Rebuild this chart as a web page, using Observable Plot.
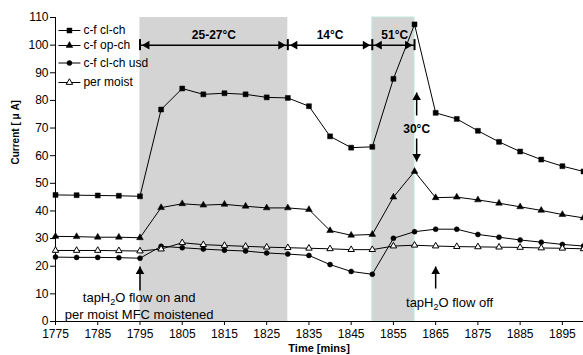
<!DOCTYPE html>
<html>
<head>
<meta charset="utf-8">
<script src="https://cdn.jsdelivr.net/npm/d3@7"></script>
<script src="https://cdn.jsdelivr.net/npm/@observablehq/plot@0.6"></script>
<style>
  html, body { margin: 0; padding: 0; background: white; }
  #chart svg { display: block; }
</style>
</head>
<body>
<div id="chart"></div>
<script>
// ---------- data ----------
const times = [1775, 1780, 1785, 1790, 1795, 1800, 1805, 1810, 1815, 1820, 1825, 1830, 1835,
               1840, 1845, 1850, 1855, 1860, 1865, 1870, 1875, 1880, 1885, 1890, 1895, 1900];
const cfClCh    = [45.8, 45.7, 45.6, 45.5, 45.3, 76.7, 84.3, 82.2, 82.6, 82.2, 81.1, 80.9, 77.9,
                   67.0, 62.9, 63.2, 87.8, 107.5, 75.5, 73.3, 69.0, 65.0, 61.5, 58.6, 56.2, 54.3];
const cfOpCh    = [30.8, 30.7, 30.5, 30.5, 30.3, 41.2, 42.6, 42.1, 42.4, 41.7, 41.1, 41.1, 40.5,
                   32.9, 31.2, 31.5, 45.0, 54.3, 44.8, 45.0, 44.0, 42.8, 41.5, 40.2, 38.7, 37.5];
const cfClChUsd = [23.3, 23.2, 23.2, 23.1, 22.9, 27.2, 26.7, 26.2, 25.8, 25.5, 24.8, 24.4, 23.9,
                   20.6, 18.1, 17.1, 30.1, 32.5, 33.4, 33.4, 31.5, 30.5, 29.5, 28.7, 27.9, 27.3];
const perMoist  = [25.7, 25.7, 25.7, 25.6, 25.5, 26.2, 28.5, 27.8, 27.5, 27.2, 26.9, 26.7, 26.5,
                   26.3, 26.0, 26.0, 27.3, 27.6, 27.3, 27.1, 27.0, 26.9, 26.8, 26.6, 26.5, 26.3];
const seriesNames = ["c-f cl-ch", "c-f op-ch", "c-f cl-ch usd", "per moist"];

const xTicks = [1775, 1785, 1795, 1805, 1815, 1825, 1835, 1845, 1855, 1865, 1875, 1885, 1895];
const yTicks = [0, 10, 20, 30, 40, 50, 60, 70, 80, 90, 100, 110];

const shadeStarts = [1795, 1850];
const shadeEnds   = [1830, 1860];
const periodStarts = [1795, 1830, 1850];
const periodEnds   = [1830, 1850, 1860];
const periodLabels = ["25-27°C", "14°C", "51°C"];
const midLabel = "30°C";
const flowOnLabels = ["tapH₂O flow on and", "per moist MFC moistened"];
const flowOffLabel = "tapH₂O flow off";
const xLabel = "Time [mins]";
const yLabel = "Current [ μ A]";

// ---------- styling (not data) ----------
const symbols = ["square", "triangle", "circle", "triangle"];
const fills   = ["black", "black", "black", "white"];
const radii   = [2.8, 2.5, 2.5, 2.4];
const allValues = [cfClCh, cfOpCh, cfClChUsd, perMoist];

const series = seriesNames.map((name, i) => ({
  name,
  rows: times.map((t, j) => ({t, v: allValues[i][j]})),
  symbol: symbols[i], fill: fills[i], r: radii[i]
}));

// layout helpers
const H = 355, mTop = 17, mBottom = 34;
const yPerPx = 110 / (H - mTop - mBottom);
const pxY = py => (H - mBottom - py) * yPerPx;  // pixel row -> data value
const legendRowsPx = [30, 45, 62.5, 82];
const arrowY = 100;
const headR = 3.2, headOff = 7;

function head(x, y, dir) {
  const rot = {up: 0, right: 90, down: 180, left: -90}[dir];
  const dx = dir === "left" ? headOff : dir === "right" ? -headOff : 0;
  const dy = dir === "up" ? 5 : dir === "down" ? -5 : 0;
  return Plot.dot([0], {x: () => x, y: () => y, symbol: "triangle", r: headR,
    fill: "black", stroke: "none", rotate: rot, dx, dy});
}

const marks = [
  Plot.rect([0], {x1: () => shadeStarts[0], x2: () => shadeEnds[0], y1: 0, y2: 110, fill: "#d4d4d4"}),
  Plot.rect([0], {x1: () => shadeStarts[1], x2: () => shadeEnds[1], y1: 0, y2: 110, fill: "#d4d4d4",
    stroke: "#bfeae0", strokeWidth: 1}),
  Plot.ruleX([1775], {stroke: "black", strokeWidth: 1}),
  Plot.ruleY([0], {stroke: "black", strokeWidth: 1}),
  Plot.axisX({ticks: xTicks, tickFormat: d => String(d), tickSize: 4, tickPadding: 4, label: null,
    fontSize: 12}),
  Plot.axisY({ticks: yTicks, tickSize: 5, tickPadding: 2, label: null, fontSize: 12}),
];

for (const s of series) {
  marks.push(Plot.line(s.rows, {x: "t", y: "v", stroke: "black", strokeWidth: 1}));
  marks.push(Plot.dot(s.rows, {x: "t", y: "v", symbol: s.symbol, r: s.r, fill: s.fill,
    stroke: "black", strokeWidth: s.fill === "white" ? 1 : 0.5}));
}

series.forEach((s, i) => {
  const ly = pxY(legendRowsPx[i]);
  marks.push(Plot.link([0], {x1: () => 1775.7, x2: () => 1780.9, y1: () => ly, y2: () => ly,
    stroke: "black", strokeWidth: 1}));
  marks.push(Plot.dot([0], {x: () => 1778.3, y: () => ly, symbol: s.symbol, r: s.r, fill: s.fill,
    stroke: "black", strokeWidth: s.fill === "white" ? 1 : 0.5}));
  marks.push(Plot.text([s.name], {x: () => 1781.6, y: () => ly, text: d => d, textAnchor: "start",
    fontSize: 12}));
});

periodLabels.forEach((lab, i) => {
  const a = periodStarts[i], b = periodEnds[i];
  marks.push(Plot.link([0], {x1: () => a, x2: () => b, y1: () => arrowY, y2: () => arrowY,
    stroke: "black", strokeWidth: 1.5}));
  marks.push(head(a, arrowY, "left"));
  marks.push(head(b, arrowY, "right"));
  marks.push(Plot.text([lab], {x: () => (a + b) / 2 + (i === 2 ? 0.3 : 0), y: () => pxY(35),
    text: d => d, fontWeight: "bold", fontSize: 12}));
});
marks.push(Plot.ruleX([...new Set([...periodStarts, ...periodEnds])], {y1: arrowY - 2, y2: arrowY + 2,
  stroke: "black", strokeWidth: 2}));

const x30 = 1860.5;
marks.push(Plot.link([0], {x1: () => x30, x2: () => x30, y1: () => pxY(115), y2: () => pxY(92),
  stroke: "black", strokeWidth: 1.5}));
marks.push(head(x30, pxY(92), "up"));
marks.push(Plot.link([0], {x1: () => x30, x2: () => x30, y1: () => pxY(138), y2: () => pxY(161),
  stroke: "black", strokeWidth: 1.5}));
marks.push(head(x30, pxY(161), "down"));
marks.push(Plot.text([midLabel], {x: () => x30, y: () => pxY(129), text: d => d,
  fontWeight: "bold", fontSize: 12}));

for (const [xx, y0] of [[1795, 290], [1865, 288]]) {
  marks.push(Plot.link([0], {x1: () => xx, x2: () => xx, y1: () => pxY(y0), y2: () => pxY(266),
    stroke: "black", strokeWidth: 1.5}));
  marks.push(head(xx, pxY(266), "up"));
}
marks.push(Plot.text([flowOnLabels[0]], {x: () => 1794.8, y: () => pxY(297), text: d => d, fontSize: 13}));
marks.push(Plot.text([flowOnLabels[1]], {x: () => 1794.8, y: () => pxY(314), text: d => d, fontSize: 13}));
marks.push(Plot.text([flowOffLabel], {x: () => 1868.3, y: () => pxY(302), text: d => d, fontSize: 13}));

marks.push(Plot.text([yLabel], {frameAnchor: "left", rotate: -90, dx: -40, dy: -5, text: d => d,
  fontWeight: "bold", fontSize: 10}));
marks.push(Plot.text([xLabel], {x: () => 1837.4, frameAnchor: "bottom", dy: 30, text: d => d,
  fontWeight: "bold", fontSize: 11}));

const chart = Plot.plot({
  width: 583,
  height: H,
  marginLeft: 55,
  marginRight: 0,
  marginTop: mTop,
  marginBottom: mBottom,
  x: {domain: [1775, 1900]},
  y: {domain: [0, 110]},
  style: {fontFamily: "'Liberation Sans', Arial, sans-serif", fontSize: "12px", background: "white",
    color: "black", overflow: "visible"},
  marks
});

// render subscript 2 in "tapH₂O"
d3.select(chart).selectAll("text").each(function() {
  const el = this;
  if (!el.textContent.includes("₂")) return;
  const target = el.querySelector("tspan") || el;
  const parts = target.textContent.split("₂");
  target.textContent = "";
  const ns = "http://www.w3.org/2000/svg";
  const t0 = document.createElementNS(ns, "tspan");
  t0.textContent = parts[0];
  const t1 = document.createElementNS(ns, "tspan");
  t1.textContent = "2";
  t1.setAttribute("font-size", "9");
  t1.setAttribute("dy", "3");
  const t2 = document.createElementNS(ns, "tspan");
  t2.textContent = parts[1];
  t2.setAttribute("dy", "-3");
  target.append(t0, t1, t2);
});

document.getElementById("chart").append(chart);
</script>
</body>
</html>
